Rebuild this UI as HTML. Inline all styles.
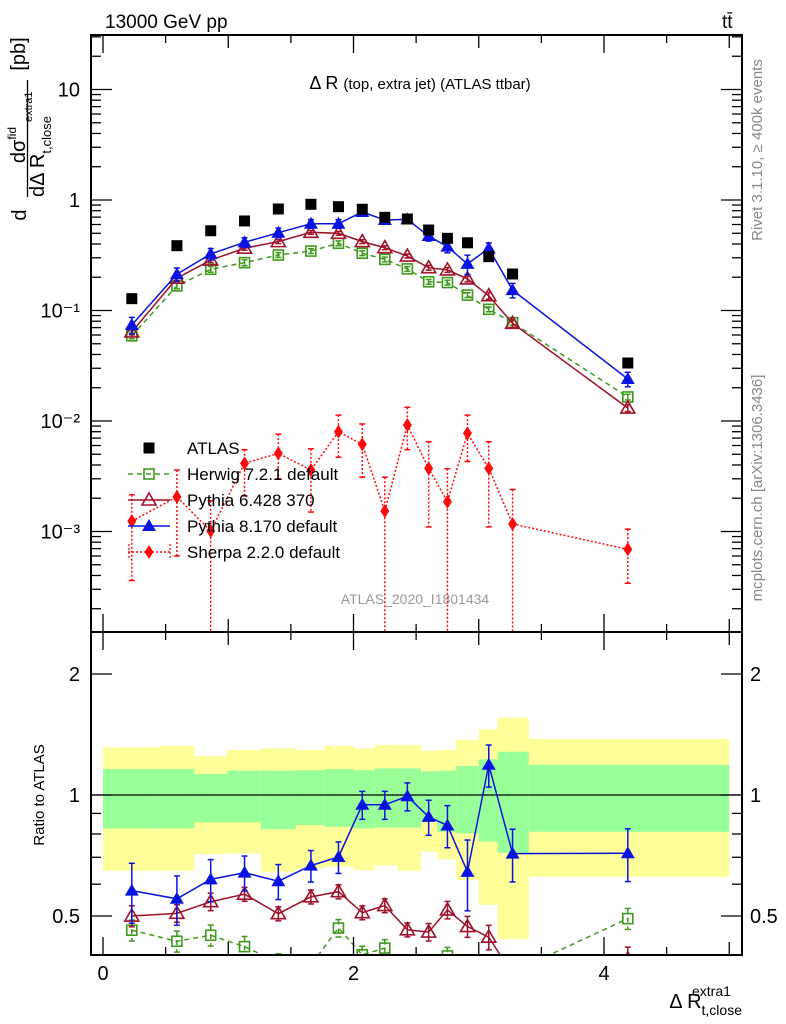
<!DOCTYPE html>
<html><head><meta charset="utf-8"><style>
html,body{margin:0;padding:0;background:#fff;}
svg{display:block;font-family:"Liberation Sans",sans-serif;}
</style></head><body>
<svg id="plot" width="786" height="1024" viewBox="0 0 786 1024" xmlns="http://www.w3.org/2000/svg">
<defs>
<clipPath id="clipMain"><rect x="91" y="35" width="651" height="597"/></clipPath>
<clipPath id="clipRatio"><rect x="91" y="632" width="651" height="323"/></clipPath>
</defs>
<g id="bands" clip-path="url(#clipRatio)"></g>
<line x1="91" x2="742" y1="795" y2="795" stroke="#000" stroke-width="1.3"/>
<g id="series"></g>
<g id="axes"></g>
<text x="105" y="28" font-size="19">13000 GeV pp</text>
<text x="722" y="28" font-size="19">tt̄</text>
<text x="420" y="89" font-size="18" text-anchor="middle">Δ R <tspan font-size="15">(top, extra jet) (ATLAS ttbar)</tspan></text>
<text transform="translate(762,150) rotate(-90)" font-size="15" fill="#888" text-anchor="middle">Rivet 3.1.10, ≥ 400k events</text>
<text transform="translate(762,488) rotate(-90)" font-size="15" fill="#888" text-anchor="middle">mcplots.cern.ch [arXiv:1306.3436]</text>
<text x="415" y="604" font-size="14" fill="#999" text-anchor="middle">ATLAS_2020_I1801434</text>
<g font-size="20">
<text transform="translate(26,215) rotate(-90)" text-anchor="middle">d</text>
<text transform="translate(25,145) rotate(-90)" text-anchor="middle">dσ<tspan font-size="12" dy="-9">fid</tspan></text>
<line x1="27.5" x2="27.5" y1="80" y2="197" stroke="#000" stroke-width="1.3"/>
<text transform="translate(44,197) rotate(-90)">dΔ R<tspan font-size="13" dy="7">t,close</tspan><tspan font-size="11" dx="-6" dy="-19">extra1</tspan></text>
<text transform="translate(25,54) rotate(-90)" text-anchor="middle">[pb]</text>
</g>
<text transform="translate(44,795) rotate(-90)" font-size="15" text-anchor="middle">Ratio to ATLAS</text>
<text x="742" y="1008" font-size="20" text-anchor="end">Δ R<tspan font-size="14" dy="7">t,close</tspan><tspan font-size="14" dx="-50" dy="-19">extra1</tspan></text>
<g id="legend"></g>
</svg>
<script>
const xCenters=[0.23,0.59,0.86,1.13,1.40,1.66,1.88,2.07,2.25,2.43,2.60,2.75,2.91,3.08,3.27,4.19];
const binEdges=[0,0.44,0.73,0.99,1.26,1.54,1.77,2.0,2.17,2.35,2.54,2.67,2.82,3.0,3.15,3.4,5.0];
const atlas=[0.128,0.386,0.527,0.646,0.829,0.914,0.87,0.824,0.697,0.673,0.535,0.45,0.41,0.307,0.214,0.0335];
const herwig=[0.059,0.167,0.236,0.271,0.318,0.345,0.406,0.33,0.29,0.238,0.182,0.179,0.138,0.1025,0.0776,0.0165];
const pythia6=[0.064,0.196,0.286,0.366,0.42,0.51,0.50,0.42,0.37,0.311,0.244,0.233,0.193,0.136,0.0766,0.0131];
const pythia8=[0.074,0.213,0.325,0.414,0.506,0.61,0.61,0.779,0.659,0.668,0.472,0.378,0.264,0.365,0.153,0.024];
const sherpa=[0.00124,0.00206,0.00101,0.00414,0.0051,0.0036,0.008,0.00615,0.00153,0.0092,0.00373,0.00186,0.00774,0.00373,0.00117,0.00069];
const sherpaUp=[0.00215,0.0036,0.0019,0.0055,0.0076,0.0056,0.0113,0.0094,0.0031,0.0133,0.0065,0.0037,0.0113,0.0065,0.0024,0.00105];
const sherpaDn=[0.00036,0.0006,0.00001,0.0021,0.003,0.0015,0.0047,0.0031,0.00001,0.0055,0.0011,0.00001,0.0043,0.0011,0.00001,0.00034];
const herwigRelErr=[0.06,0.06,0.06,0.06,0.05,0.05,0.05,0.05,0.05,0.05,0.05,0.05,0.05,0.05,0.05,0.06];
const pythia6RelErr=[0.06,0.05,0.05,0.04,0.04,0.04,0.04,0.04,0.04,0.04,0.05,0.05,0.06,0.07,0.08,0.07];
const pythia8RelErr=[0.17,0.14,0.12,0.10,0.10,0.09,0.09,0.08,0.08,0.08,0.10,0.12,0.20,0.12,0.15,0.15];
const yellowUp=[1.314,1.324,1.25,1.294,1.306,1.294,1.324,1.306,1.332,1.332,1.289,1.294,1.37,1.457,1.557,1.378];
const yellowDn=[0.648,0.648,0.713,0.716,0.644,0.657,0.663,0.651,0.667,0.648,0.723,0.692,0.615,0.533,0.438,0.626];
const greenUp=[1.16,1.16,1.128,1.149,1.149,1.152,1.16,1.152,1.165,1.165,1.145,1.149,1.181,1.227,1.281,1.188];
const greenDn=[0.826,0.826,0.855,0.855,0.822,0.842,0.834,0.826,0.83,0.83,0.858,0.81,0.803,0.765,0.718,0.81];
const yTickLabels=["10","1","10⁻¹","10⁻²","10⁻³"];
const yTickValues=[10,1,0.1,0.01,0.001];
const rTickValues=[0.5,1,2];
const rTickLabels=["0.5","1","2"];
const xTickValues=[0,2,4];
const xTickLabels=["0","2","4"];

const NS="http://www.w3.org/2000/svg";
const X=v=>103+v*125.25;
const Y=v=>200-110.5*Math.log10(v);
const R=v=>795-402*Math.log10(v);
function el(tag,attrs,parent){const e=document.createElementNS(NS,tag);for(const k in attrs)e.setAttribute(k,attrs[k]);parent.appendChild(e);return e;}
const bands=document.getElementById('bands'),series=document.getElementById('series'),axes=document.getElementById('axes'),legend=document.getElementById('legend');

for(let i=0;i<yellowUp.length;i++){
  const x0=X(binEdges[i]),x1=X(binEdges[i+1]);
  let r=el('rect',{x:x0,y:R(yellowUp[i]),width:x1-x0,height:R(yellowDn[i])-R(yellowUp[i]),fill:'#ffff99'},bands);
  
  
  let g=el('rect',{x:x0,y:R(greenUp[i]),width:x1-x0,height:R(greenDn[i])-R(greenUp[i]),fill:'#99ff99'},bands);
  
  
}

function marker(type,x,y,color,parent){
  let m;
  if(type==='sq') m=el('rect',{x:x-5.5,y:y-5.5,width:11,height:11,fill:'#000'},parent);
  else if(type==='osq') m=el('rect',{x:x-5,y:y-5,width:10,height:10,fill:'none',stroke:color,'stroke-width':1.6},parent);
  else if(type==='otri') m=el('polygon',{points:`${x},${y-7} ${x-7},${y+5} ${x+7},${y+5}`,fill:'none',stroke:color,'stroke-width':1.6},parent);
  else if(type==='tri') m=el('polygon',{points:`${x},${y-7} ${x-7},${y+5} ${x+7},${y+5}`,fill:color},parent);
  else m=el('polygon',{points:`${x},${y-7} ${x-4.5},${y} ${x},${y+7} ${x+4.5},${y}`,fill:color},parent);
  return m;
}
function drawSeries(vals,up,dn,yfn,color,dash,mtype,clip,name){
  const g=el('g',{'clip-path':clip},series);
  
  
  if(color){
    const pts=vals.map((v,i)=>`${X(xCenters[i])},${yfn(v)}`).join(' ');
    el('polyline',{points:pts,fill:'none',stroke:color,'stroke-width':1.5,'stroke-dasharray':dash||''},g);
  }
  vals.forEach((v,i)=>{
    const x=X(xCenters[i]);
    if(up){const yu=yfn(up[i]),yd=yfn(Math.max(dn[i],1e-6));
      el('line',{x1:x,x2:x,y1:yu,y2:yd,stroke:color,'stroke-width':1.5,'stroke-dasharray':dash||''},g);
      el('line',{x1:x-3,x2:x+3,y1:yu,y2:yu,stroke:color,'stroke-width':1.5},g);
      el('line',{x1:x-3,x2:x+3,y1:yd,y2:yd,stroke:color,'stroke-width':1.5},g);}
    const m=marker(mtype,x,yfn(v),color,g);
    
    
  });
}
drawSeries(herwig,herwig.map((v,i)=>v*(1+herwigRelErr[i])),herwig.map((v,i)=>v*(1-herwigRelErr[i])),Y,'#3f9a1c','5,4','osq','url(#clipMain)','herwig-series');
drawSeries(pythia6,pythia6.map((v,i)=>v*(1+pythia6RelErr[i])),pythia6.map((v,i)=>v*(1-pythia6RelErr[i])),Y,'#a01028',null,'otri','url(#clipMain)','pythia6-series');
drawSeries(pythia8,pythia8.map((v,i)=>v*(1+pythia8RelErr[i])),pythia8.map((v,i)=>v*(1-pythia8RelErr[i])),Y,'#0a14e0',null,'tri','url(#clipMain)','pythia8-series');
drawSeries(sherpa,sherpaUp,sherpaDn,Y,'#ff0a0a','2,2','dia','url(#clipMain)','sherpa-series');
drawSeries(atlas,null,null,Y,null,null,'sq','url(#clipMain)','atlas-data');
const rat=a=>a.map((v,i)=>v/atlas[i]);
const hr=rat(herwig),p6r=rat(pythia6),p8r=rat(pythia8);
drawSeries(hr,hr.map((v,i)=>v*(1+herwigRelErr[i])),hr.map((v,i)=>v*(1-herwigRelErr[i])),R,'#3f9a1c','5,4','osq','url(#clipRatio)','herwig-ratio');
drawSeries(p6r,p6r.map((v,i)=>v*(1+pythia6RelErr[i])),p6r.map((v,i)=>v*(1-pythia6RelErr[i])),R,'#a01028',null,'otri','url(#clipRatio)','pythia6-ratio');
drawSeries(p8r,p8r.map((v,i)=>v*(1+pythia8RelErr[i])),p8r.map((v,i)=>v*(1-pythia8RelErr[i])),R,'#0a14e0',null,'tri','url(#clipRatio)','pythia8-ratio');

el('rect',{x:91,y:35,width:651,height:597,fill:'none',stroke:'#000','stroke-width':2},axes);
el('rect',{x:91,y:632,width:651,height:323,fill:'none',stroke:'#000','stroke-width':2},axes);
for(let d=-4;d<=1;d++){for(let k=1;k<10;k++){const v=k*Math.pow(10,d);const y=Y(v);if(y<35||y>632)continue;
  const L=k===1?21:10;
  el('line',{x1:91,x2:91+L,y1:y,y2:y,stroke:'#000','stroke-width':1.3},axes);
  el('line',{x1:742,x2:742-L,y1:y,y2:y,stroke:'#000','stroke-width':1.3},axes);}}
yTickValues.forEach((v,i)=>{const t=el('text',{x:80,y:Y(v)+7,'font-size':20,'text-anchor':'end'},axes);t.textContent=yTickLabels[i];
  
  });
[0.4,0.5,0.6,0.7,0.8,0.9,1,2].forEach(v=>{const y=R(v);const L=(v===0.5||v===1||v===2)?21:10;
  el('line',{x1:91,x2:91+L,y1:y,y2:y,stroke:'#000','stroke-width':1.3},axes);
  el('line',{x1:742,x2:742-L,y1:y,y2:y,stroke:'#000','stroke-width':1.3},axes);});
rTickValues.forEach((v,i)=>{
  const t=el('text',{x:80,y:R(v)+7,'font-size':20,'text-anchor':'end'},axes);t.textContent=rTickLabels[i];
  
  
  const t2=el('text',{x:750,y:R(v)+7,'font-size':20},axes);t2.textContent=rTickLabels[i];
  
  });
for(let v=0;v<=5.01;v+=0.5){const x=X(v);const L=(Math.abs(v%2)<0.01)?18:(Math.abs(v%1)<0.01?13:8);
  [[35,1],[632,-1],[632,1],[955,-1]].forEach(([y0,s])=>el('line',{x1:x,x2:x,y1:y0,y2:y0+s*L,stroke:'#000','stroke-width':1.3},axes));}
xTickValues.forEach((v,i)=>{const t=el('text',{x:X(v),y:980,'font-size':20,'text-anchor':'middle'},axes);t.textContent=xTickLabels[i];
  
  });

const legNames=["ATLAS","Herwig 7.2.1 default","Pythia 6.428 370","Pythia 8.170 default","Sherpa 2.2.0 default"];
const legColors=[null,'#3f9a1c','#a01028','#0a14e0','#ff0a0a'];
const legMarks=['sq','osq','otri','tri','dia'];
const legDash=[null,'5,4',null,null,'2,2'];
legNames.forEach((n,i)=>{const y=448+i*26;const g=el('g',{},legend);
  
  
  if(legColors[i]){el('line',{x1:128,x2:170,y1:y,y2:y,stroke:legColors[i],'stroke-width':1.5,'stroke-dasharray':legDash[i]||''},g);
    if(i===4){el('line',{x1:129,x2:129,y1:y-8,y2:y+8,stroke:legColors[i],'stroke-width':1.3,'stroke-dasharray':'2,2'},g);el('line',{x1:170,x2:170,y1:y-8,y2:y+8,stroke:legColors[i],'stroke-width':1.3,'stroke-dasharray':'2,2'},g);}}
  marker(legMarks[i],149,y,legColors[i],g);
  const t=el('text',{x:187,y:y+6,'font-size':17},g);t.textContent=n;});
</script>
</body></html>
